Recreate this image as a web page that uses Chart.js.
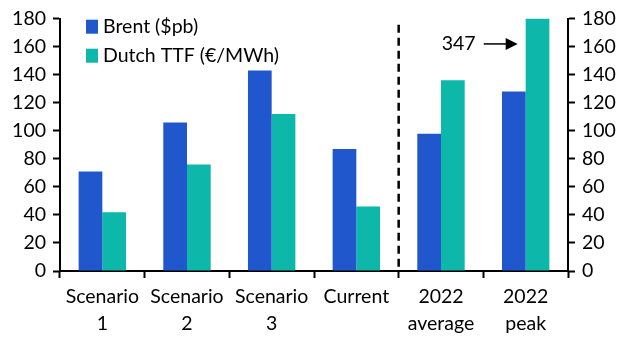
<!DOCTYPE html>
<html>
<head>
<meta charset="utf-8">
<script src="https://cdn.jsdelivr.net/npm/chart.js@4.4.0/dist/chart.umd.min.js"></script>
<style>
  html, body { margin: 0; padding: 0; background: #fff; }
  #wrap { width: 632px; height: 354px; }
</style>
</head>
<body>
<div id="wrap"><canvas id="chart" width="632" height="354"></canvas></div>
<script>
// data
const categories = [['Scenario', '1'], ['Scenario', '2'], ['Scenario', '3'], ['Current', ''], ['2022', 'average'], ['2022', 'peak']];
const brent = [71, 106, 143, 87, 98, 128];
const ttf = [42, 76, 112, 46, 136, 347];
const yTicks = [0, 20, 40, 60, 80, 100, 120, 140, 160, 180];
const seriesNames = ['Brent ($pb)', 'Dutch TTF (€/MWh)'];
const peakLabel = '347';

const FONT = 'Lato, "Open Sans", sans-serif';
const FS = 19.5;
const BLUE = '#2057cc';
const TEAL = '#0db8aa';

// legend, dashed divider and the 347 arrow
const extras = {
    id: 'extras',
    afterDatasetsDraw(chart) {
        const ctx = chart.ctx;
        const x = chart.scales.x;
        const y = chart.scales.y;
        const area = chart.chartArea;

        // dashed divider between Current and 2022 average
        const divX = (x.getPixelForValue(3) + x.getPixelForValue(4)) / 2;
        ctx.save();
        ctx.strokeStyle = '#000';
        ctx.lineWidth = 2.5;
        ctx.setLineDash([8, 5]);
        ctx.beginPath();
        ctx.moveTo(divX, area.top + 6);
        ctx.lineTo(divX, area.bottom);
        ctx.stroke();
        ctx.restore();

        // legend
        ctx.save();
        ctx.font = FS + 'px ' + FONT;
        ctx.textBaseline = 'middle';
        [BLUE, TEAL].forEach((c, i) => {
            const cy = area.top + 8 + i * 29;
            ctx.fillStyle = c;
            ctx.fillRect(area.left + 26, cy - 7, 12, 14);
            ctx.fillStyle = '#000';
            ctx.fillText(seriesNames[i], area.left + 43, cy);
        });
        ctx.restore();

        // 347 arrow
        const bar = chart.getDatasetMeta(1).data[5];
        const ay = y.getPixelForValue(162);
        const tip = bar.x - bar.width / 2 - 8;
        ctx.save();
        ctx.strokeStyle = '#000';
        ctx.fillStyle = '#000';
        ctx.lineWidth = 1.5;
        ctx.beginPath();
        ctx.moveTo(tip - 34, ay);
        ctx.lineTo(tip - 8, ay);
        ctx.stroke();
        ctx.beginPath();
        ctx.moveTo(tip, ay);
        ctx.lineTo(tip - 12, ay - 6);
        ctx.lineTo(tip - 12, ay + 6);
        ctx.closePath();
        ctx.fill();
        ctx.font = FS + 'px ' + FONT;
        ctx.textAlign = 'right';
        ctx.textBaseline = 'middle';
        ctx.fillText(peakLabel, tip - 42, ay);
        ctx.restore();
    }
};

const yAxis = (pos) => ({
    position: pos,
    min: 0,
    max: 180,
    afterBuildTicks: (s) => { s.ticks = yTicks.map(v => ({ value: v })); },
    afterFit: (s) => { s.width = pos === 'left' ? 60 : 64; },
    grid: { drawOnChartArea: false, tickLength: 7, tickWidth: 2, tickColor: '#000' },
    border: { color: '#000', width: 2 },
    ticks: { color: '#000', padding: 7, font: { family: FONT, size: FS } }
});

new Chart(document.getElementById('chart'), {
    type: 'bar',
    data: {
        labels: categories,
        datasets: [
            { label: seriesNames[0], data: brent, backgroundColor: BLUE, yAxisID: 'y' },
            { label: seriesNames[1], data: ttf, backgroundColor: TEAL, yAxisID: 'y' }
        ]
    },
    options: {
        responsive: false,
        animation: false,
        layout: { padding: { top: 4 } },
        datasets: { bar: { categoryPercentage: 0.56, barPercentage: 1 } },
        plugins: { legend: { display: false }, tooltip: { enabled: false } },
        scales: {
            x: {
                offset: true,
                afterFit: (s) => { s.height = 83; },
                grid: { offset: true, drawOnChartArea: false, tickLength: 7, tickWidth: 2, tickColor: '#000' },
                border: { color: '#000', width: 2 },
                ticks: { color: '#000', padding: 6, maxRotation: 0, autoSkip: false, font: { family: FONT, size: FS, lineHeight: 1.35 } }
            },
            y: yAxis('left'),
            y2: Object.assign(yAxis('right'), { min: 0, max: 180 })
        }
    },
    plugins: [extras]
});
</script>
</body>
</html>
